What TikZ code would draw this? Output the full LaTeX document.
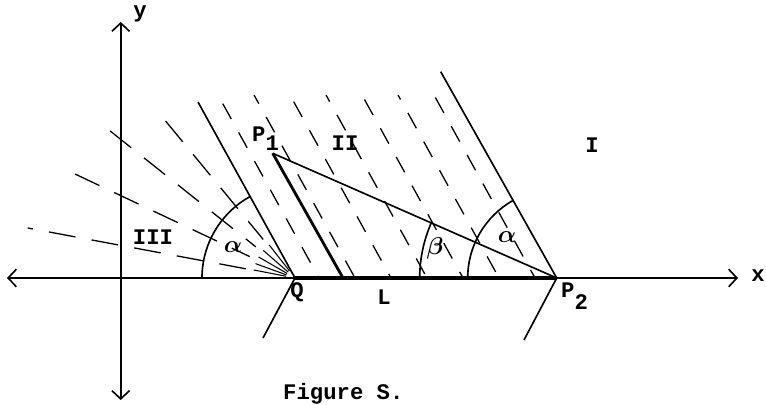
\documentclass[tikz,border=0pt]{standalone}
\usepackage{fontspec}
\setmonofont{Liberation Mono}
\usetikzlibrary{arrows.meta,calc}
\tikzset{Barbtip/.tip={Straight Barb[length=7pt,width=15pt,line width=1.4pt]}}
\begin{document}
\begin{tikzpicture}[x=0.03cm,y=-0.03cm,
  thinline/.style={line width=1.4pt},
  axisline/.style={line width=1.4pt},
  heavy/.style={line width=3.2pt},
  lbl/.style={font=\ttfamily\bfseries\fontsize{19}{22}\selectfont, inner sep=0pt},
  greek/.style={font=\boldmath\fontsize{20}{24}\selectfont, inner sep=0pt},
  hatch/.style={line width=1.1pt, dash pattern=on 15pt off 13pt},
  ray/.style={line width=1.1pt, dash pattern=on 23pt off 14pt}
]
\useasboundingbox (0,0) rectangle (766,405);
% key points
\coordinate (O) at (120.7,278);
\coordinate (Q) at (295,278);
\coordinate (P2) at (556.7,278);
\coordinate (P1) at (272.7,153.3);
\coordinate (M) at (343,278);
\coordinate (xl) at (7,278);
\coordinate (xr) at (738,278);
\coordinate (yt) at (120.7,22);
\coordinate (yb) at (120.7,400);
\coordinate (Qtop) at (198,102);
\coordinate (Qbot) at (263,338);
\coordinate (Ptop) at (440.7,71.7);
\coordinate (Pbot) at (524,340);

% hatching of region II
\begin{scope}
  \clip (293,278) -- (193,95) -- (453,95) -- (554,278) -- cycle;
  \foreach \x [count=\i] in {319,355,...,600} {
    \pgfmathsetmacro\ph{mod(\i*13,28)}
    \draw[hatch, dash phase=\ph pt] (\x,278) -- ++(-101,-183);
  }
\end{scope}

% radial dashes of region III
\foreach \a/\l/\ph in {190.6/272/0, 205.3/258/6, 218.5/242/12, 230.5/205/3} {
  \draw[ray, dash phase=\ph pt] ($(Q)+(\a:50)$) -- ($(Q)+(\a:\l)$);
}
\foreach \a in {191,200,210,221,232} {
  \draw[line width=0.9pt] ($(Q)+(\a:9)$) -- ($(Q)+(\a:42)$);
}

% axes
\draw[axisline,{Barbtip}-{Barbtip}] (xl) -- (xr);
\draw[axisline,{Barbtip}-{Barbtip}] (yb) -- (yt);

% boundary lines
\draw[thinline] (Qtop) -- (Q) -- (Qbot);
\draw[thinline] (Ptop) -- (P2) -- (Pbot);
\draw[heavy] (Q) -- (P2);
\draw[line width=2.4pt] (P1) -- (M);
\draw[thinline] (P1) -- (P2);

% angle arcs
\draw[thinline] ($(Q)+(180:2.79cm)$) arc[start angle=180,end angle=119,radius=2.79cm];
\draw[thinline] ($(P2)+(180:4.11cm)$) arc[start angle=180,end angle=156.3,radius=4.11cm];
\draw[thinline] ($(P2)+(180:2.67cm)$) arc[start angle=180,end angle=119.4,radius=2.67cm];

% labels
\node[lbl] (ylab) at (140,14) {y};
\node[lbl] (xlab) at (758,276) {x};
\node[lbl,anchor=base west] (p1lab) at (252,142) {P\raisebox{-7pt}{1}};
\node[lbl,anchor=base west] (p2lab) at (561,298) {P\raisebox{-10pt}{2}};
\node[lbl] (IIlab) at (345,143) {II};
\node[lbl] (Ilab) at (592,145) {I};
\node[lbl] (IIIlab) at (153,237) {III};
\node[lbl] (qlab) at (297,292) {Q};
\node[lbl] (llab) at (384,297) {L};
\node[greek] (a1) at (233,247) {$\alpha$};
\node[greek] (b1) at (435,248) {$\beta$};
\node[greek] (a2) at (507,237) {$\alpha$};
\node[lbl,anchor=base west] (cap) at (283,399) {Figure S.};
\end{tikzpicture}
\end{document}
